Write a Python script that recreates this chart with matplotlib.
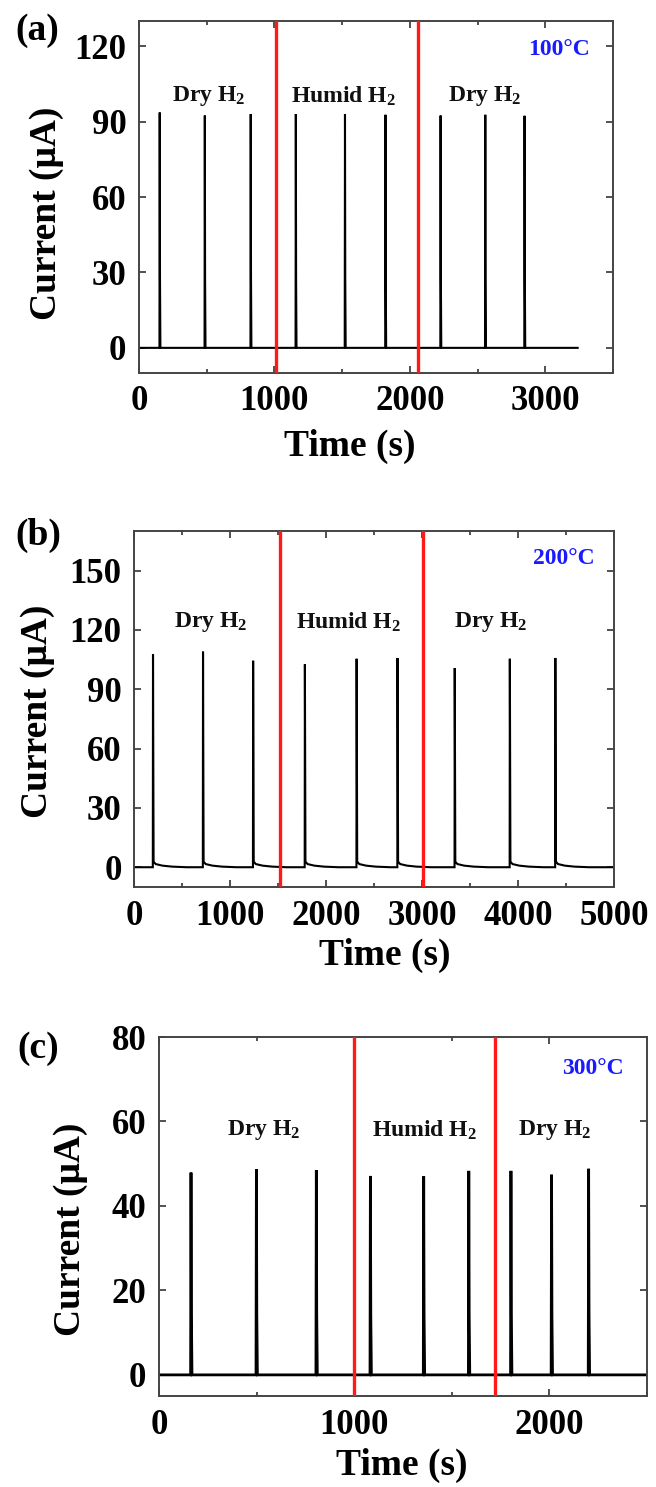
import numpy as np
import matplotlib
matplotlib.use("Agg")
import matplotlib.pyplot as plt
from matplotlib.ticker import MultipleLocator

plt.rcParams['font.family'] = ['Liberation Serif', 'DejaVu Serif']
plt.rcParams['font.weight'] = 'bold'
plt.rcParams['mathtext.default'] = 'regular'

# ---- data ----
# (a) 100 C
peaks_a = [151, 484, 823, 1156, 1519, 1818, 2225, 2555, 2845]
heights_a = [93.6, 92.4, 93.0, 93.0, 93.0, 92.7, 92.4, 92.7, 92.3]
end_a = 3239
switch_a = [1011, 2058]
# (b) 200 C
peaks_b = [196, 717, 1239, 1778, 2317, 2743, 3339, 3913, 4387]
heights_b = [107.6, 109.0, 104.4, 102.6, 105.4, 105.8, 100.7, 105.4, 105.8]
end_b = 5000
switch_b = [1520, 3010]
# (c) 300 C
peaks_c = [162, 497, 804, 1081, 1354, 1585, 1801, 2009, 2199]
heights_c = [47.9, 48.7, 48.5, 47.1, 47.0, 48.3, 48.3, 47.4, 48.8]
end_c = 2500
switch_c = [1000, 1720]

# spike shape: time offsets after onset and fraction of peak height
spike_dt = [0, 2, 4, 7]
spike_frac = [0, 1, 0.3, 0.0]
# slow tail seen at 200 C (absolute current, uA)
tail_dt_b = [8, 30, 100, 200, 350]
tail_val_b = [2.8, 1.6, 0.8, 0.3, 0.0]

phase_labels = ['Dry H$_2$', 'Humid H$_2$', 'Dry H$_2$']


def trace(peaks, heights, t_end, tail_dt=(), tail_val=()):
    t = [0.0]
    y = [0.0]
    for p, h in zip(peaks, heights):
        if tail_dt:
            for dt, f in zip(spike_dt[:2], spike_frac[:2]):
                t.append(p + dt)
                y.append(h * f)
            for dt, v in zip(tail_dt, tail_val):
                t.append(p + dt)
                y.append(v)
        else:
            for dt, f in zip(spike_dt, spike_frac):
                t.append(p + dt)
                y.append(h * f)
    t.append(t_end)
    y.append(0.0)
    return np.array(t), np.array(y)


W, H = 656, 1487
fig = plt.figure(figsize=(W / 100, H / 100), dpi=100)


def box(l, r, top, bot):
    return [l / W, 1 - bot / H, (r - l) / W, (bot - top) / H]


panels = [
    dict(rect=box(139, 613, 21, 373), peaks=peaks_a, heights=heights_a, end=end_a,
         sw=switch_a, xlim=(0, 3500), xmaj=1000, ylim=(-10, 130), ymaj=30,
         lab_x=[518, 1510, 2552], lab_y=100, temp='100°C', temp_xy=(3330, 118.5),
         tag='(a)', tag_xy=(37, 31), ylab_xy=(46, 213), xlab_xy=(350, 446), lw_base=1.5),
    dict(rect=box(134, 614, 531, 887), peaks=peaks_b, heights=heights_b, end=end_b,
         sw=switch_b, xlim=(0, 5000), xmaj=1000, ylim=(-10, 170), ymaj=30,
         lab_x=[804, 2230, 3717], lab_y=124, temp='200°C', temp_xy=(4800, 156),
         tag='(b)', tag_xy=(38, 535), ylab_xy=(38, 711), xlab_xy=(385, 955), lw_base=1.5,
         tail=(tail_dt_b, tail_val_b)),
    dict(rect=box(159, 647, 1037, 1396), peaks=peaks_c, heights=heights_c, end=end_c,
         sw=switch_c, xlim=(0, 2500), xmaj=1000, ylim=(-5, 80), ymaj=20,
         lab_x=[534, 1362, 2026], lab_y=58, temp='300°C', temp_xy=(2380, 72.6),
         tag='(c)', tag_xy=(38, 1048), ylab_xy=(71, 1229), xlab_xy=(402, 1465), lw_base=2.0),
]

for p in panels:
    ax = fig.add_axes(p['rect'])
    tail = p.get('tail', ((), ()))
    t, y = trace(p['peaks'], p['heights'], p['end'], tail[0], tail[1])
    ax.plot(t, y, color='black', lw=p['lw_base'], solid_joinstyle='miter')
    for s in p['sw']:
        ax.axvline(s, color='#ff1a1a', lw=2.4, zorder=3)
    ax.set_xlim(*p['xlim'])
    ax.set_ylim(*p['ylim'])
    ax.xaxis.set_major_locator(MultipleLocator(p['xmaj']))
    ax.xaxis.set_minor_locator(MultipleLocator(500))
    ax.yaxis.set_major_locator(MultipleLocator(p['ymaj']))
    ax.tick_params(which='both', direction='in', top=True, right=True,
                   colors='#333333', width=1.2, labelcolor='black')
    ax.tick_params(which='major', length=5, labelsize=25, pad=9)
    ax.tick_params(which='minor', length=3)
    for lbl in ax.get_xticklabels() + ax.get_yticklabels():
        lbl.set_fontweight('bold')
    for sp in ax.spines.values():
        sp.set_color('#444444')
        sp.set_linewidth(1.4)
    for x, txt in zip(p['lab_x'], phase_labels):
        ax.text(x, p['lab_y'], txt, ha='center', va='center', fontsize=17,
                fontweight='bold', color='#111111')
    ax.text(p['temp_xy'][0], p['temp_xy'][1], p['temp'], ha='right', va='center',
            fontsize=17, fontweight='bold', color='#1a1aff')
    fig.text(p['tag_xy'][0] / W, 1 - p['tag_xy'][1] / H, p['tag'], ha='center',
             va='center', fontsize=27, fontweight='bold')
    fig.text(p['ylab_xy'][0] / W, 1 - p['ylab_xy'][1] / H, 'Current (μA)', ha='center',
             va='center', rotation=90, fontsize=27, fontweight='bold')
    fig.text(p['xlab_xy'][0] / W, 1 - p['xlab_xy'][1] / H, 'Time (s)', ha='center',
             va='center', fontsize=27, fontweight='bold')

fig.savefig('out.png', dpi=100)
